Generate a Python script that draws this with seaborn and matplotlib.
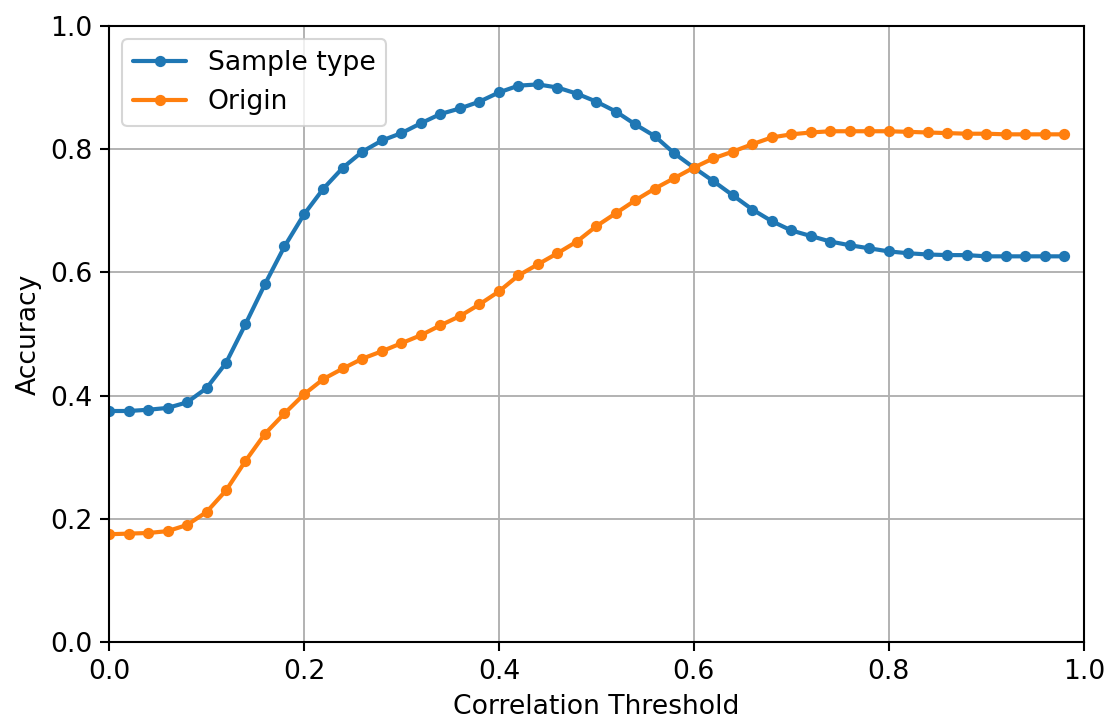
import numpy as np
import pandas as pd
import matplotlib
matplotlib.use("Agg")
import matplotlib.pyplot as plt
import seaborn as sns

# Correlation thresholds (0.00 .. 0.98, step 0.02)
thresholds = np.round(np.arange(0, 1.0, 0.02), 2)

sample_type = [0.375, 0.375, 0.377, 0.380, 0.389, 0.412, 0.453, 0.516, 0.581, 0.642,
               0.694, 0.736, 0.770, 0.796, 0.814, 0.826, 0.842, 0.857, 0.866, 0.877,
               0.892, 0.903, 0.905, 0.900, 0.890, 0.877, 0.861, 0.840, 0.821, 0.793,
               0.770, 0.748, 0.725, 0.702, 0.683, 0.668, 0.659, 0.650, 0.644, 0.639,
               0.634, 0.631, 0.629, 0.628, 0.628, 0.626, 0.626, 0.626, 0.626, 0.626]

origin = [0.175, 0.176, 0.177, 0.180, 0.190, 0.211, 0.246, 0.294, 0.338, 0.371,
          0.402, 0.427, 0.444, 0.460, 0.472, 0.485, 0.498, 0.514, 0.529, 0.548,
          0.569, 0.595, 0.613, 0.631, 0.650, 0.675, 0.696, 0.717, 0.736, 0.753,
          0.770, 0.785, 0.796, 0.808, 0.819, 0.824, 0.827, 0.829, 0.829, 0.829,
          0.829, 0.828, 0.827, 0.826, 0.825, 0.825, 0.824, 0.824, 0.824, 0.824]

df = pd.DataFrame({
    'Correlation Threshold': np.concatenate([thresholds, thresholds]),
    'Accuracy': sample_type + origin,
    'Label': ['Sample type'] * len(thresholds) + ['Origin'] * len(thresholds),
})

sns.set_style("ticks")
plt.rcParams['font.family'] = ['DejaVu Sans']
plt.rcParams['text.color'] = 'black'
plt.rcParams['axes.labelcolor'] = 'black'

fs = 12.8

fig = plt.figure(figsize=(1107 / 150, 719 / 150), dpi=150)
ax = fig.add_axes([0.0985, 0.107, 0.8805, 0.857])

sns.lineplot(data=df, x='Correlation Threshold', y='Accuracy', hue='Label',
             palette=['#1f77b4', '#ff7f0e'], marker='o', markersize=5.4,
             markeredgewidth=0, linewidth=2.0, ax=ax)

ax.set_xlim(0, 1.0)
ax.set_ylim(0, 1.0)
ax.set_xticks(np.arange(0, 1.01, 0.2))
ax.set_yticks(np.arange(0, 1.01, 0.2))
ax.grid(True, color='#b0b0b0', linewidth=0.9)
ax.tick_params(labelsize=fs, direction='out', length=4.5, width=1.0, colors='black')
for s in ax.spines.values():
    s.set_color('black')
    s.set_linewidth(1.0)
ax.set_xlabel('Correlation Threshold', fontsize=fs, labelpad=4.5)
ax.set_ylabel('Accuracy', fontsize=fs)
ax.legend(loc='upper left', fontsize=fs, title=None, frameon=True)

fig.savefig('out.png', dpi=150)
